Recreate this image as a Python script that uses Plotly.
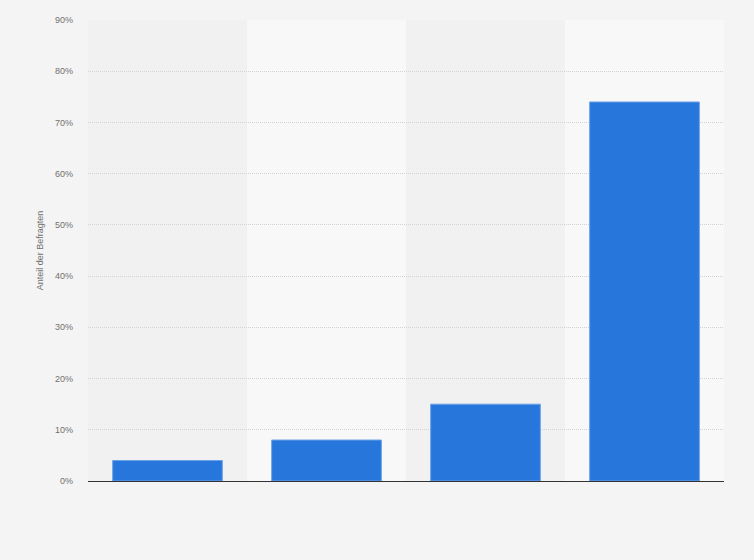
import plotly.graph_objects as go

# Daten
kategorien = ['Kategorie 1', 'Kategorie 2', 'Kategorie 3', 'Kategorie 4']
anteile = [4, 8, 15, 74]
y_ticks = [0, 10, 20, 30, 40, 50, 60, 70, 80, 90]
y_labels = [f'{t}%' for t in y_ticks]

fig = go.Figure()

fig.add_trace(go.Bar(
    x=kategorien,
    y=anteile,
    marker=dict(color='#2776dc', line=dict(color='#6ea2e6', width=1)),
    hovertemplate='%{y}%<extra></extra>',
))

# abwechselnde Hintergrundstreifen
band_farben = ['#f1f1f1', '#f8f8f8']
for i in range(len(kategorien)):
    fig.add_shape(type='rect', xref='x', yref='y',
                  x0=i - 0.5, x1=i + 0.5, y0=0, y1=90,
                  fillcolor=band_farben[i % 2], line=dict(width=0), layer='below')

fig.update_layout(
    width=754,
    height=560,
    margin=dict(l=88, r=30, t=20, b=79),
    paper_bgcolor='#f4f4f4',
    plot_bgcolor='#f4f4f4',
    bargap=0.31,
    showlegend=False,
    font=dict(family='Arial, Liberation Sans, sans-serif', size=10, color='#666666'),
    xaxis=dict(
        showticklabels=False,
        showgrid=False,
        showline=True,
        linecolor='#333333',
        linewidth=1,
        range=[-0.5, 3.5],
        fixedrange=True,
    ),
    yaxis=dict(
        range=[0, 90],
        tickvals=y_ticks,
        ticktext=y_labels,
        tickfont=dict(size=9, color='#707070'),
        ticklabelstandoff=14,
        showgrid=True,
        gridcolor='#d2d2d2',
        griddash='1px,1px',
        gridwidth=1,
        zeroline=False,
        title=dict(text='Anteil der Befragten', font=dict(size=9, color='#707070'), standoff=9),
        fixedrange=True,
    ),
)

# Seitenrand entfernen, damit die Grafik das ganze Fenster ausfüllt
fig.write_html('out.html', config={'displayModeBar': False},
               post_script="document.body.style.margin='0';document.body.style.background='#f4f4f4';")
